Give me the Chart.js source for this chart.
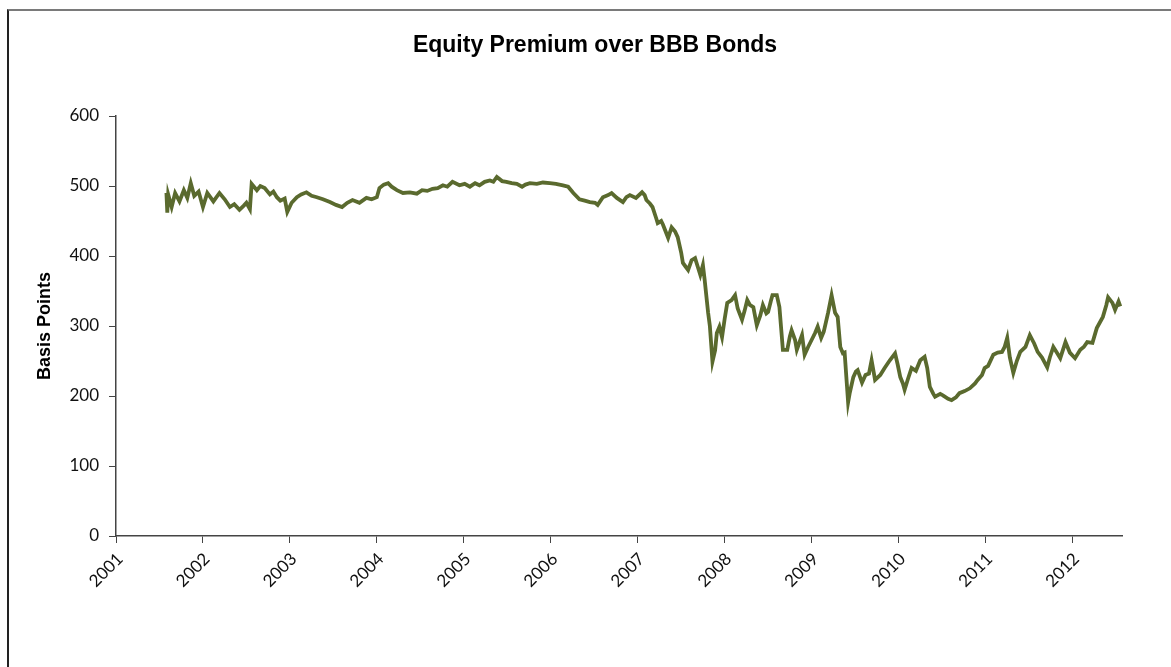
<!DOCTYPE html>
<html>
<head>
<meta charset="utf-8">
<title>Equity Premium over BBB Bonds</title>
<script src="https://cdn.jsdelivr.net/npm/chart.js@4/dist/chart.umd.min.js"></script>
<style>
  html, body { margin: 0; padding: 0; background: #fff; }
  #wrap { position: relative; width: 1171px; height: 667px; overflow: hidden; }
  #frame {
    position: absolute; left: 7px; top: 9px; right: -10px; bottom: -10px;
    border-top: 2px solid #7a7a7a; border-left: 2px solid #222;
  }
  canvas { position: absolute; left: 0; top: 0; }
</style>
</head>
<body>
<div id="wrap">
  <div id="frame"></div>
  <canvas id="premiumChart" width="1171" height="667"></canvas>
</div>
<script>
// DATA
const titleText = 'Equity Premium over BBB Bonds';
const axisTitle = 'Basis Points';

// decimal years
const years = [
  2001.58, 2001.59, 2001.60, 2001.64, 2001.68, 2001.73, 2001.78, 2001.82, 2001.86, 2001.90, 2001.95,
  2002.00, 2002.05, 2002.12, 2002.19, 2002.25, 2002.31, 2002.36, 2002.42, 2002.47, 2002.50, 2002.54,
  2002.56, 2002.62, 2002.66, 2002.71, 2002.77, 2002.81, 2002.85, 2002.89, 2002.94, 2002.97,
  2003.02, 2003.08, 2003.13, 2003.19, 2003.25, 2003.31, 2003.38, 2003.46, 2003.53, 2003.60, 2003.66,
  2003.72, 2003.80, 2003.88, 2003.94,
  2004.00, 2004.03, 2004.08, 2004.13, 2004.17, 2004.23, 2004.30, 2004.38, 2004.46, 2004.52, 2004.58,
  2004.64, 2004.70, 2004.76, 2004.81, 2004.87, 2004.95,
  2005.01, 2005.07, 2005.13, 2005.18, 2005.24, 2005.30, 2005.34, 2005.38, 2005.44, 2005.49, 2005.55,
  2005.61, 2005.67, 2005.71, 2005.76, 2005.84, 2005.91, 2005.99,
  2006.06, 2006.14, 2006.20, 2006.26, 2006.33, 2006.39, 2006.45, 2006.51, 2006.54, 2006.60, 2006.66,
  2006.70, 2006.76, 2006.83, 2006.87, 2006.91, 2006.98,
  2007.05, 2007.08, 2007.10, 2007.14, 2007.17, 2007.21, 2007.23, 2007.27, 2007.29, 2007.35, 2007.39,
  2007.43, 2007.46, 2007.50, 2007.52, 2007.55, 2007.58, 2007.62, 2007.66, 2007.69, 2007.72, 2007.75,
  2007.77, 2007.81, 2007.83, 2007.86, 2007.89, 2007.91, 2007.94, 2007.97,
  2008.00, 2008.03, 2008.08, 2008.12, 2008.15, 2008.20, 2008.23, 2008.26, 2008.29, 2008.33, 2008.37,
  2008.41, 2008.44, 2008.48, 2008.50, 2008.53, 2008.55, 2008.60, 2008.63, 2008.67, 2008.72, 2008.75,
  2008.77, 2008.81, 2008.83, 2008.87, 2008.89, 2008.92, 2008.96,
  2009.00, 2009.04, 2009.07, 2009.11, 2009.14, 2009.19, 2009.23, 2009.27, 2009.30, 2009.33, 2009.36,
  2009.38, 2009.42, 2009.44, 2009.48, 2009.51, 2009.53, 2009.58, 2009.62, 2009.66, 2009.69, 2009.73,
  2009.79, 2009.84, 2009.90, 2009.96, 2009.99,
  2010.02, 2010.05, 2010.07, 2010.11, 2010.15, 2010.20, 2010.25, 2010.30, 2010.33, 2010.36, 2010.40,
  2010.42, 2010.48, 2010.51, 2010.57, 2010.61, 2010.66, 2010.70, 2010.76, 2010.82, 2010.88, 2010.91,
  2010.96, 2010.99,
  2011.03, 2011.09, 2011.14, 2011.19, 2011.22, 2011.25, 2011.28, 2011.32, 2011.36, 2011.40, 2011.46,
  2011.51, 2011.56, 2011.60, 2011.65, 2011.71, 2011.74, 2011.78, 2011.82, 2011.86, 2011.92, 2011.97,
  2012.03, 2012.09, 2012.13, 2012.17, 2012.23, 2012.28, 2012.35, 2012.39, 2012.41, 2012.46, 2012.49,
  2012.53, 2012.55
];

// basis points
const premium = [
  490, 462, 488, 470, 490, 478, 494, 483, 504, 486, 492,
  470, 490, 478, 490, 481, 470, 474, 466, 472, 476, 467,
  503, 494, 500, 497, 488, 492, 484, 479, 482, 463,
  476, 484, 488, 491, 486, 484, 481, 477, 473, 470, 476,
  480, 476, 483, 481,
  484, 497, 502, 504, 499, 494, 490, 491, 489, 494, 493,
  496, 497, 501, 499, 506, 501,
  503, 499, 504, 501, 506, 508, 506, 513, 507, 506, 504,
  503, 499, 502, 504, 503, 505, 504,
  503, 501, 499, 490, 481, 479, 477, 476, 473, 484, 487,
  490, 483, 477, 484, 487, 483,
  491, 487, 480, 475, 470, 455, 447, 450, 445, 426, 441,
  435, 427, 405, 390, 385, 380, 394, 397, 385, 373, 387,
  366, 319, 300, 249, 265, 290, 299, 284,
  310, 333, 337, 344, 325, 309, 322, 337, 330, 327, 301,
  315, 330, 318, 320, 335, 344, 344, 327, 266, 266, 285,
  294, 280, 266, 280, 287, 259, 270,
  280, 290, 299, 283, 292, 319, 344, 319, 313, 270, 261,
  262, 191, 205, 227, 235, 237, 219, 230, 232, 251, 223,
  230, 240, 251, 261, 245,
  227, 218, 209, 225, 240, 236, 251, 256, 240, 213, 203,
  199, 203, 201, 196, 194, 198, 204, 207, 211, 218, 223,
  230, 240,
  243, 259, 262, 263, 270, 283, 255, 233, 250, 263, 270,
  287, 275, 263, 255, 241, 255, 270, 262, 254, 277, 262,
  254, 266, 270, 277, 276, 297, 313, 330, 341, 333, 323,
  335, 328
];

const yearTicks = [2001, 2002, 2003, 2004, 2005, 2006, 2007, 2008, 2009, 2010, 2011, 2012];
const valueTicks = [0, 100, 200, 300, 400, 500, 600];

const tickFont = { family: 'Lato, "DejaVu Sans", sans-serif', size: 17 };

// TITLE (drawn above the plot, offset from the canvas centre)
const chartTitle = {
    id: 'chartTitle',
    afterDraw(chart) {
        const ctx = chart.ctx;
        ctx.save();
        ctx.font = 'bold 23px "Liberation Sans", Arial, sans-serif';
        ctx.fillStyle = '#000';
        ctx.textAlign = 'center';
        ctx.textBaseline = 'middle';
        ctx.fillText(titleText, 595, 46);
        ctx.restore();
    }
};

// CHART
const ctx = document.getElementById('premiumChart');

new Chart(ctx, {
    type: 'line',
    data: {
        datasets: [
            {
                label: titleText,
                data: years.map((x, i) => ({ x: x, y: premium[i] })),
                borderColor: '#5a6a2e',
                borderWidth: 3.8,
                pointRadius: 0,
                tension: 0,
                fill: false
            }
        ]
    },
    options: {
        responsive: false,
        animation: false,
        layout: {
            padding: { left: 0, right: 49, top: 116, bottom: 51 }
        },
        plugins: {
            legend: { display: false },
            tooltip: { enabled: false }
        },
        scales: {
            x: {
                type: 'linear',
                min: 2001,
                max: 2012.57,
                afterBuildTicks: scale => {
                    scale.ticks = yearTicks.map(v => ({ value: v }));
                },
                afterFit: scale => { scale.height = 80; },
                ticks: {
                    color: '#111',
                    font: tickFont,
                    minRotation: 45,
                    maxRotation: 45,
                    padding: 6,
                    labelOffset: 4,
                    callback: v => String(v)
                },
                grid: {
                    drawOnChartArea: false,
                    drawTicks: true,
                    tickLength: 7,
                    color: '#444'
                },
                border: { color: '#444', width: 1.5 }
            },
            y: {
                min: 0,
                max: 600,
                afterBuildTicks: scale => {
                    scale.ticks = valueTicks.map(v => ({ value: v }));
                },
                afterFit: scale => { scale.width = 116; },
                ticks: {
                    color: '#111',
                    font: tickFont,
                    padding: 10
                },
                title: {
                    display: true,
                    text: axisTitle,
                    color: '#000',
                    font: { family: '"Liberation Sans", Arial, sans-serif', size: 18, weight: 'bold' },
                    padding: { top: 34, bottom: 0 }
                },
                grid: {
                    drawOnChartArea: false,
                    drawTicks: true,
                    tickLength: 7,
                    color: '#444'
                },
                border: { color: '#444', width: 1.5 }
            }
        }
    },
    plugins: [chartTitle]
});
</script>
</body>
</html>
